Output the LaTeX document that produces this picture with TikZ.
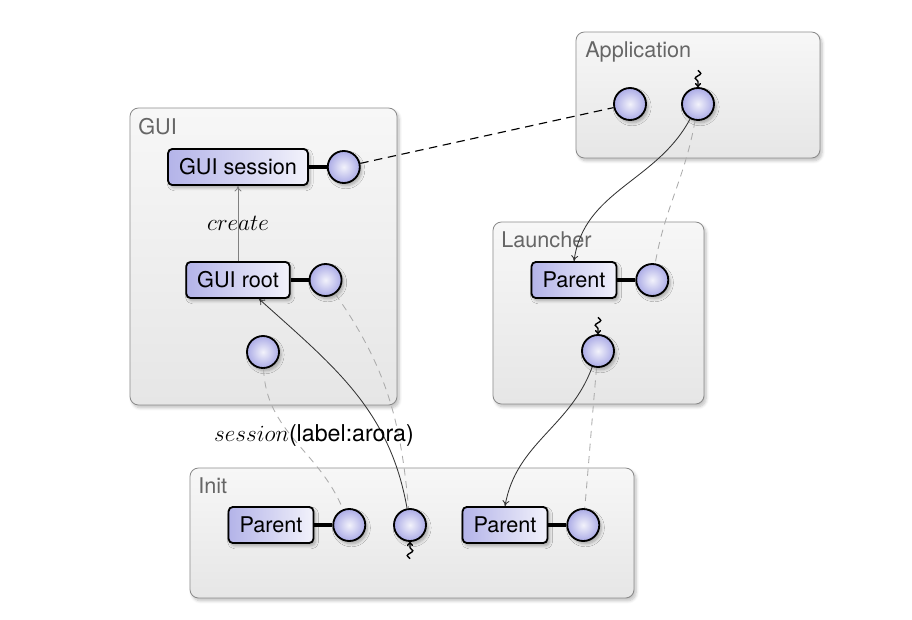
\documentclass[tikz,border=0pt]{standalone}
\usepackage{fontspec}
\setmainfont{TeX Gyre Heros}
\DeclareFontShape{OML}{cmm}{m}{it}{<->cmmi12}{}
\usepackage{tikz}
\usetikzlibrary{arrows.meta,positioning,shadows,shadows.blur,decorations.pathmorphing}
\definecolor{lav}{HTML}{ABABE6}
\definecolor{lavlight}{HTML}{F2F2FB}
\definecolor{frame}{HTML}{8C8C8C}
\definecolor{ptop}{HTML}{F7F7F7}
\definecolor{pbot}{HTML}{E6E6E6}
\definecolor{ttlc}{HTML}{666666}
\definecolor{wire}{HTML}{333333}
\definecolor{ghost}{HTML}{ABABAB}
\newcommand\fs{\fontsize{15.4}{18}\selectfont}
\newcommand\fl{\fontsize{16.5}{19}\selectfont}
\tikzset{
  panel/.style={draw=frame,line width=0.6pt,rounded corners=6pt,top color=ptop,bottom color=pbot,blur shadow={shadow opacity=25,shadow xshift=1.5pt,shadow yshift=-2pt,shadow blur steps=6}},
  ttl/.style={font=\fs,text=ttlc,anchor=base west,inner sep=0pt},
  comp/.style={draw=black,line width=1.3pt,rounded corners=3pt,left color=lav!90,right color=lavlight,font=\fs,inner xsep=7.8pt,minimum height=0.9cm,blur shadow={shadow opacity=30,shadow xshift=1.5pt,shadow yshift=-2pt,shadow blur steps=6}},
  port/.style={circle,draw=black,line width=1.3pt,inner color=lavlight,outer color=lav,minimum size=0.8cm,inner sep=0pt,blur shadow={shadow opacity=30,shadow xshift=1.5pt,shadow yshift=-2pt,shadow blur steps=6}},
  link/.style={line width=2.6pt},
  use/.style={-{To[length=4pt,width=5pt]},color=wire,line width=0.6pt},
  dep/.style={color=ghost,dashed,dash pattern=on 5pt off 4pt,line width=0.6pt},
  sess/.style={dashed,dash pattern=on 6pt off 4pt,line width=0.8pt},
  spawn/.style={-{To[length=3pt,width=4.5pt]},line width=1pt,decorate,decoration={snake,amplitude=2pt,segment length=7pt,post length=2.5pt}},
  lbl/.style={font=\fl,text=black}}
\begin{document}
\begin{tikzpicture}[x=0.025cm,y=-0.025cm]
\useasboundingbox (0,0) rectangle (912,619);
% containers
\draw[panel] (576,32) rectangle (820,158);
\node[ttl] (tapp) at (585,57) {Application};
\draw[panel] (130,108) rectangle (397,405);
\node[ttl] (tgui) at (138,134) {GUI};
\draw[panel] (493,222) rectangle (704,404);
\node[ttl] (tlaunch) at (501,247) {Launcher};
\draw[panel] (190,468) rectangle (634,598);
\node[ttl] (tinit) at (198,493) {Init};
% components
\node[port] (app1) at (630,104) {};
\node[port] (app2) at (698,104) {};
\node[comp] (gsess) at (238,167) {GUI session};
\node[port,right=0.45cm of gsess] (gsport) {};
\node[comp] (groot) at (238,280) {GUI root};
\node[port,right=0.45cm of groot] (grport) {};
\node[port] (gidle) at (263,352) {};
\node[comp] (lpar) at (574,280) {Parent};
\node[port,right=0.45cm of lpar] (lport) {};
\node[port] (lidle) at (598,351) {};
\node[comp] (ipar1) at (271,525) {Parent};
\node[port,right=0.45cm of ipar1] (iport1) {};
\node[port] (iidle) at (410,525) {};
\node[comp] (ipar2) at (505,525) {Parent};
\node[port,right=0.45cm of ipar2] (iport2) {};
\draw[link] (gsess) -- (gsport); \draw[link] (groot) -- (grport);
\draw[link] (lpar) -- (lport); \draw[link] (ipar1) -- (iport1); \draw[link] (ipar2) -- (iport2);
% threads
\coordinate (app2s) at ([yshift=0.42cm]app2.north);
\coordinate (lidles) at ([yshift=0.42cm]lidle.north);
\coordinate (iidles) at ([yshift=-0.42cm]iidle.south);
\draw[spawn] (app2s) -- (app2.north);
\draw[spawn] (lidles) -- (lidle.north);
\draw[spawn] (iidles) -- (iidle.south);
% connections
\draw[sess] (gsport) -- (app1);
\draw[use,color=gray] (groot) -- node[lbl,pos=0.5]{$create$} (gsess);
\draw[use] (app2) to[out=-118,in=82] (lpar.north);
\draw[dep] (app2) to[out=-100,in=80] (lport);
\draw[use] (lidle) to[out=-110,in=80] (ipar2.north);
\draw[dep] (lidle) to[out=-95,in=85] (iport2);
\draw[use] (iidle) to[out=100,in=-42] (groot);
\draw[dep] (grport) to[out=-55,in=95] (iidle);
\draw[dep] (gidle) to[out=-88,in=112] (iport1);
\node[lbl] (sesslbl) at (314,435) {$session$(label:arora)};
\end{tikzpicture}
\end{document}
